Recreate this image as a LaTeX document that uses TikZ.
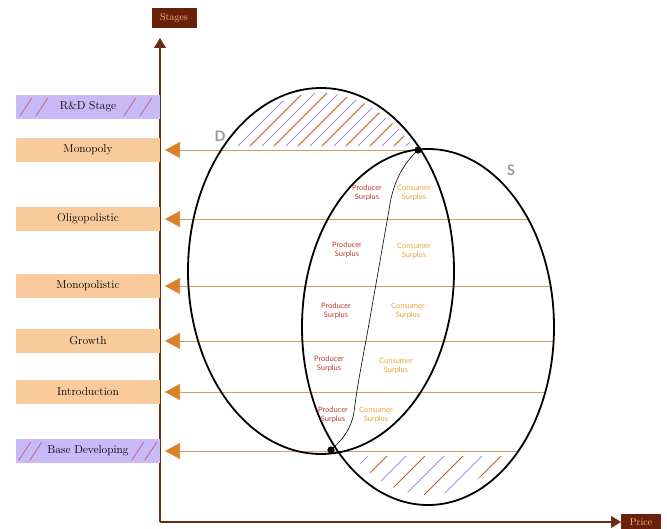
\documentclass[tikz,border=0pt]{standalone}
\usepackage{fontspec}
\newfontfamily\surplusfont{Lato}
\usetikzlibrary{arrows.meta,positioning}
\definecolor{stageorange}{HTML}{F9CA9C}
\definecolor{lavender}{HTML}{C9B9F6}
\definecolor{titlebrown}{HTML}{6B200C}
\definecolor{titletext}{HTML}{F4C17C}
\definecolor{axisbrown}{HTML}{6E2C16}
\definecolor{guideline}{HTML}{CF9F68}
\definecolor{arrorange}{HTML}{D9822B}
\definecolor{prodred}{HTML}{C23A2E}
\definecolor{consorange}{HTML}{E6A334}
\definecolor{hatchbrown}{HTML}{B9602F}
\definecolor{hatchlav}{HTML}{9E90EA}
\definecolor{slashpink}{HTML}{B5647E}
\tikzset{
	stagebox/.style={fill=stageorange, minimum width=144pt, minimum height=24pt, inner sep=0pt, font=\fontsize{11.5}{13}\selectfont},
	rdbox/.style={stagebox, fill=lavender},
	titlebox/.style={fill=titlebrown, text=titletext, font=\fontsize{10}{12}\selectfont, inner sep=2pt, minimum height=20pt},
	axis/.style={draw=axisbrown, line width=1.2pt, -{Triangle[length=10pt,width=12pt]}},
	guide/.style={draw=guideline, line width=0.7pt, -{Triangle[length=15pt,width=16pt,color=arrorange]}},
	curve/.style={draw=black, line width=1.8pt},
	split/.style={draw=black, line width=0.6pt},
	prod/.style={text=prodred, font=\surplusfont\fontsize{7.5}{9}\selectfont, align=center},
	cons/.style={prod, text=consorange},
	market/.style={text=black!40, font=\surplusfont\bfseries\Large},
	dot/.style={circle, fill=black, inner sep=0pt, minimum size=7pt},
	slash/.style={draw=slashpink, line width=0.8pt},
}

\begin{document}
\begin{tikzpicture}[x=1pt, y=-1pt]
	\useasboundingbox (0,0) rectangle (667,529);

	% axes
	\coordinate (origin) at (160,522);
	\coordinate (ytop) at (160,38);
	\coordinate (xend) at (621,522);
	\draw[axis] (origin) -- (ytop);
	\draw[axis] (origin) -- (xend);
	\node[titlebox, minimum width=45pt] (stages) at (174,18) {Stages};
	\node[titlebox, minimum width=40pt, minimum height=16pt] (price) at (641,522) {Price};

	% stages
	\node[rdbox] (rd) at (88,107) {R\&D Stage};
	\node[stagebox] (monopoly) at (88,150) {Monopoly};
	\node[stagebox] (oligo) at (88,219) {Oligopolistic};
	\node[stagebox] (monopolistic) at (88,286) {Monopolistic};
	\node[stagebox] (growth) at (88,341) {Growth};
	\node[stagebox] (intro) at (88,392) {Introduction};
	\node[rdbox] (base) at (88,451) {Base Developing};

	\foreach \n/\a/\b/\c/\d in {rd/4/20/108/124, base/3/14/116/129}{
		\draw[slash] ([xshift=\a pt,yshift=3pt]\n.south west) -- ++(12,-18);
		\draw[slash] ([xshift=\b pt,yshift=3pt]\n.south west) -- ++(12,-18);
		\draw[slash] ([xshift=\c pt,yshift=3pt]\n.south west) -- ++(12,-18);
		\draw[slash] ([xshift=\d pt,yshift=3pt]\n.south west) -- ++(12,-18);
	}

	% hatched caps
	\begin{scope}
		\clip (321,271) ellipse [x radius=128pt, y radius=178pt];
		\clip (0,0) rectangle (667,146);
		\foreach \x [count=\k] in {150,162,...,430}{
			\ifodd\k \def\hc{hatchbrown}\else\def\hc{hatchlav}\fi
			\draw[\hc, line width=0.9pt] (\x,150) -- ++(70,-70);
		}
	\end{scope}
	\begin{scope}
		\clip (428,327) ellipse [x radius=116pt, y radius=168pt];
		\clip (0,456) rectangle (667,529);
		\foreach \x [count=\k] in {300,319,...,540}{
			\ifodd\k \def\hc{hatchbrown}\else\def\hc{hatchlav}\fi
			\draw[\hc, line width=0.9pt] (\x,505) -- ++(60,-60);
		}
	\end{scope}

	% equilibrium points
	\node[dot] (top) at (418,150) {};
	\node[dot] (bot) at (331,450) {};

	% guide lines to the stages
	\coordinate (g1) at (165,150);
	\coordinate (g2) at (165,219);
	\coordinate (g3) at (165,286);
	\coordinate (g4) at (165,341);
	\coordinate (g5) at (165,392);
	\coordinate (g6) at (165,451);
	\coordinate (e2) at (529,219);
	\coordinate (e3) at (551,286);
	\coordinate (e4) at (553,341);
	\coordinate (e5) at (545,392);
	\coordinate (e6) at (519,451);
	\draw[guide] (top) -- (g1);
	\draw[guide] (e2) -- (g2);
	\draw[guide] (e3) -- (g3);
	\draw[guide] (e4) -- (g4);
	\draw[guide] (e5) -- (g5);
	\draw[guide] (e6) -- (g6);

	% demand and supply
	\draw[curve] (321,271) ellipse [x radius=133pt, y radius=183pt];
	\draw[curve] (428,327) ellipse [x radius=126pt, y radius=178pt];
	\node[market] (dlabel) at (220,136) {D};
	\node[market] (slabel) at (511,170) {S};

	\draw[split] (top.center) .. controls (405,162) and (393,180) .. (389,210)
		-- (367,335) .. controls (360,372) and (356,395) .. (354,412)
		.. controls (351,430) and (342,440) .. (bot.center);
	\node[dot] at (top) {};
	\node[dot] at (bot) {};

	% surplus labels
	\node[prod] (p1) at (367,193) {Producer\\Surplus};
	\node[cons] (c1) at (414,193) {Consumer\\Surplus};
	\node[prod] (p2) at (347,250) {Producer\\Surplus};
	\node[cons] (c2) at (414,251) {Consumer\\Surplus};
	\node[prod] (p3) at (336,311) {Producer\\Surplus};
	\node[cons] (c3) at (408,311) {Consumer\\Surplus};
	\node[prod] (p4) at (329,364) {Producer\\Surplus};
	\node[cons] (c4) at (396,366) {Consumer\\Surplus};
	\node[prod] (p5) at (333,415) {Producer\\Surplus};
	\node[cons] (c5) at (376,415) {Consumer\\Surplus};
\end{tikzpicture}
\end{document}
